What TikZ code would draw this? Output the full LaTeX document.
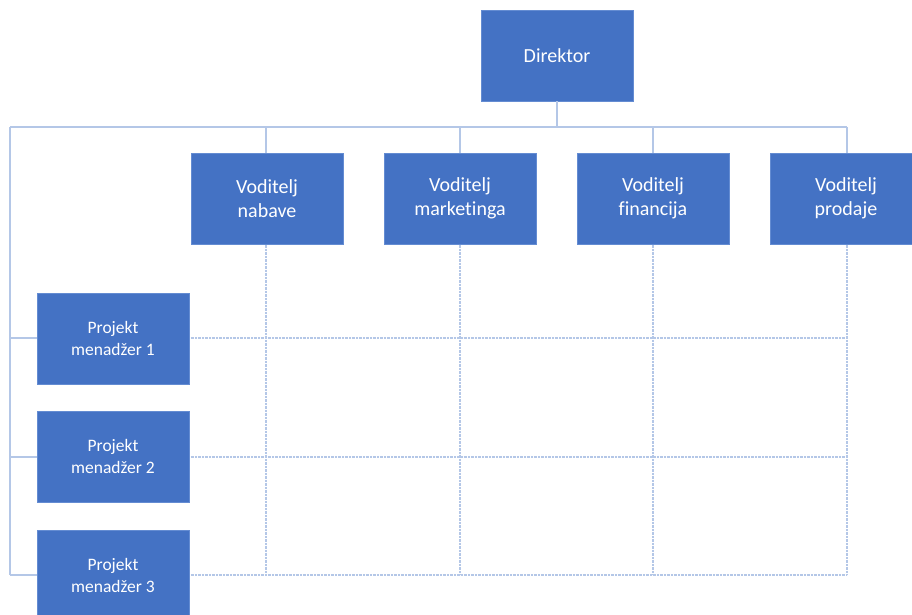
\documentclass[tikz,border=0pt]{standalone}
\usepackage{fontspec}
\setmainfont{Carlito}[Ligatures=NoCommon]
\definecolor{boxblue}{RGB}{68,114,196}
\definecolor{boxedge}{RGB}{100,140,210}
\definecolor{linecol}{RGB}{180,199,231}
\begin{document}
\begin{tikzpicture}[x=1pt,y=-1pt,
  box/.style={draw=boxedge,line width=0.8pt,fill=boxblue,text=white,minimum width=152pt,minimum height=91pt,align=center,inner sep=0pt},
  topbox/.style={box,font=\fontsize{20}{24}\selectfont},
  pmbox/.style={box,font=\fontsize{17.5}{22}\selectfont},
  solidline/.style={draw=linecol,line width=1.1pt},
  gridline/.style={draw=linecol,line width=1.1pt,dash pattern=on 1pt off 0.4pt}]
\useasboundingbox (0,0) rectangle (912,615);
\clip (0,0) rectangle (912,615);
% coordinates of the connector network
\coordinate (bus) at (557,127);
\coordinate (tl) at (10,127);
\coordinate (tr) at (847,127);
\coordinate (bl) at (10,575);
\coordinate (br) at (847,575);
\coordinate (t1) at (266,127);
\coordinate (t2) at (460,127);
\coordinate (t3) at (653,127);
\coordinate (b1) at (266,575);
\coordinate (b2) at (460,575);
\coordinate (b3) at (653,575);
\coordinate (l1) at (10,338);
\coordinate (l2) at (10,457);
\coordinate (r1) at (847,338);
\coordinate (r2) at (847,457);
% lines (behind the boxes)
\draw[gridline] (t1) -- (b1);
\draw[gridline] (t2) -- (b2);
\draw[gridline] (t3) -- (b3);
\draw[gridline] (tr) -- (br);
\draw[gridline] (l1) -- (r1);
\draw[gridline] (l2) -- (r2);
\draw[gridline] (bl) -- (br);
\draw[solidline] (tl) -- (tr);
\draw[solidline] (tl) -- (bl);
\draw[solidline] (t1) -- (266,153);
\draw[solidline] (t2) -- (460,153);
\draw[solidline] (t3) -- (653,153);
\draw[solidline] (tr) -- (847,153);
\draw[solidline] (l1) -- (37,338);
\draw[solidline] (l2) -- (37,457);
\draw[solidline] (bl) -- (37,575);
% boxes
\node[topbox] (dir) at (557,55.5) {Direktor};
\draw[solidline] (dir.south) -- (bus);
\node[topbox] (m1) at (267,198.5) {Voditelj\\nabave};
\node[topbox] (m2) at (460,198.5) {Voditelj\\marketinga};
\node[topbox] (m3) at (653,198.5) {Voditelj\\financija};
\node[topbox] (m4) at (846,198.5) {Voditelj\\prodaje};
\node[pmbox] (p1) at (113,338.5) {Projekt\\menadžer 1};
\node[pmbox] (p2) at (113,456.5) {Projekt\\menadžer 2};
\node[pmbox] (p3) at (113,575.5) {Projekt\\menadžer 3};
\end{tikzpicture}
\end{document}
